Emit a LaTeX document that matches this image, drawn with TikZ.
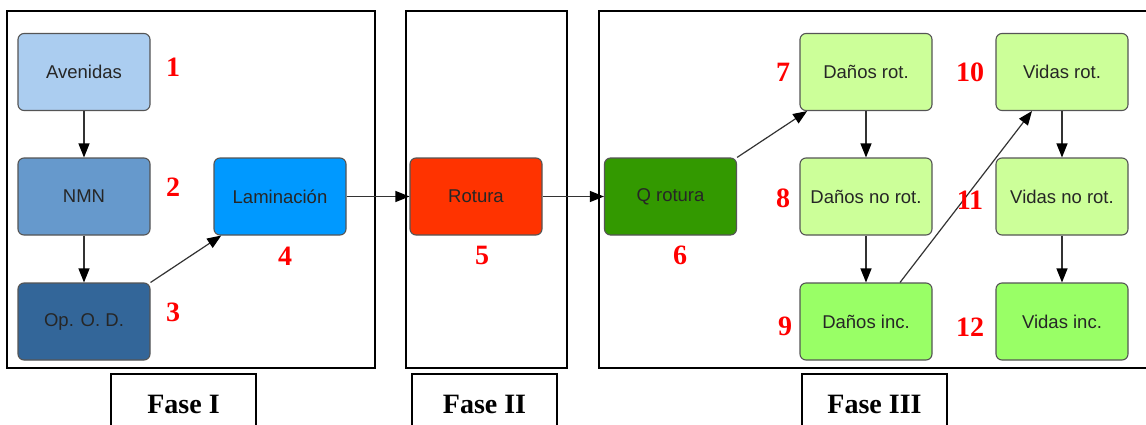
\documentclass[tikz,border=0pt]{standalone}
\usepackage{fontspec}
\setmainfont{Liberation Serif}
\newfontfamily\boxfont{Liberation Sans}
\usetikzlibrary{arrows.meta}
\definecolor{cAve}{HTML}{ABCDF0}
\definecolor{cNMN}{HTML}{6699CC}
\definecolor{cOPD}{HTML}{336699}
\definecolor{cLam}{HTML}{0099FF}
\definecolor{cRot}{HTML}{FF3300}
\definecolor{cQro}{HTML}{339900}
\definecolor{cLig}{HTML}{CCFF99}
\definecolor{cMid}{HTML}{99FF66}
\definecolor{cBord}{HTML}{555555}
\definecolor{cLine}{HTML}{333333}
\tikzset{
  stepbox/.style={draw=cBord, line width=1.1pt, rounded corners=6pt,
    minimum width=132pt, minimum height=77pt, inner sep=0pt,
    font=\boxfont\fontsize{18.5}{20}\selectfont, text=black!85},
  num/.style={text=red, font=\bfseries\fontsize{28}{30}\selectfont, inner sep=0pt},
  frame/.style={draw=black, line width=2.5pt},
  phase/.style={font=\bfseries\fontsize{28}{30}\selectfont, inner sep=0pt},
  conn/.style={draw=cLine, line width=1.2pt, -{Triangle[length=14pt,width=11pt,color=black]}},
}
\begin{document}
\begin{tikzpicture}[x=1pt,y=-1pt]
\useasboundingbox (0,0) rectangle (1146,424);
\fill[white] (0,0) rectangle (1146,424);
% frames
\draw[frame] (7,11) rectangle (375,368);
\draw[frame] (406,11) rectangle (567,368);
\draw[frame] (1152,11) -- (599,11) -- (599,368) -- (1152,368);
% phase label boxes
\draw[frame] (111,432) -- (111,374) -- (256,374) -- (256,432);
\draw[frame] (412,432) -- (412,374) -- (557,374) -- (557,432);
\draw[frame] (802,432) -- (802,374) -- (947,374) -- (947,432);
\node[phase] (f1) at (183.5,404) {Fase I};
\node[phase] (f2) at (484.5,404) {Fase II};
\node[phase] (f3) at (874.5,404) {Fase III};
% nodes
\node[stepbox, fill=cAve] (ave) at (84,72) {Avenidas};
\node[stepbox, fill=cNMN] (nmn) at (84,196.5) {NMN};
\node[stepbox, fill=cOPD] (opd) at (84,321.5) {Op. O. D.};
\node[stepbox, fill=cLam] (lam) at (280,196.5) {Laminación};
\node[stepbox, fill=cRot] (rot) at (476,196.5) {Rotura};
\node[stepbox, fill=cQro] (qro) at (670.5,196.5) {Q rotura};
\node[stepbox, fill=cLig] (drot) at (866,72) {Daños rot.};
\node[stepbox, fill=cLig] (dnor) at (866,196.5) {Daños no rot.};
\node[stepbox, fill=cMid] (dinc) at (866,321.5) {Daños inc.};
\node[stepbox, fill=cLig] (vrot) at (1062,72) {Vidas rot.};
\node[stepbox, fill=cLig] (vnor) at (1062,196.5) {Vidas no rot.};
\node[stepbox, fill=cMid] (vinc) at (1062,321.5) {Vidas inc.};
% connectors
\draw[conn] (ave) -- (nmn);
\draw[conn] (nmn) -- (opd);
\draw[conn] (opd.north east) -- (lam);
\draw[conn] (lam) -- (rot);
\draw[conn] (rot) -- (qro);
\draw[conn] (qro.north east) -- (drot);
\draw[conn] (drot) -- (dnor);
\draw[conn] (dnor) -- (dinc);
\draw[conn] ([xshift=34pt]dinc.north) -- (vrot);
\draw[conn] (vrot) -- (vnor);
\draw[conn] (vnor) -- (vinc);
% numbers
\node[num] (n1) at (173,67) {1};
\node[num] (n2) at (173,187) {2};
\node[num] (n3) at (173,312) {3};
\node[num] (n4) at (285,256) {4};
\node[num] (n5) at (482,255) {5};
\node[num] (n6) at (680,255) {6};
\node[num] (n7) at (783,72) {7};
\node[num] (n8) at (783,198) {8};
\node[num] (n9) at (785,326) {9};
\node[num] (n10) at (970,72) {10};
\node[num] (n11) at (970,200) {11};
\node[num] (n12) at (970,327) {12};
\end{tikzpicture}
\end{document}
